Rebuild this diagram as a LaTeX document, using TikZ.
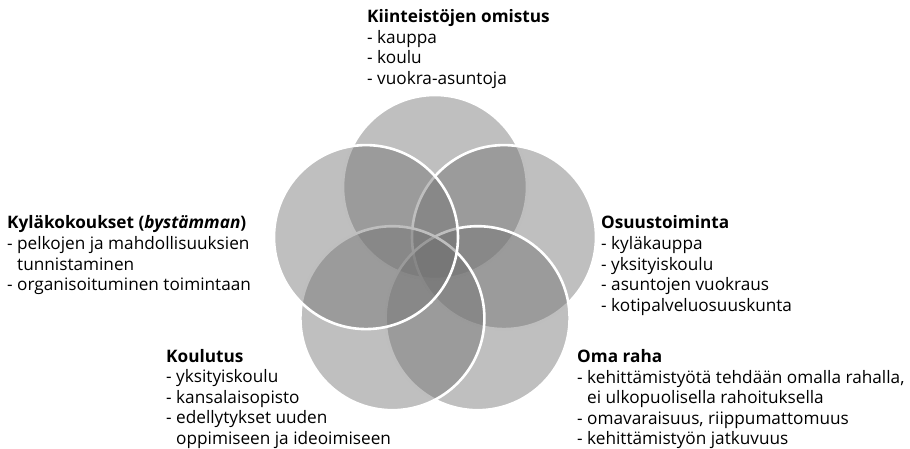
\documentclass[tikz,border=0pt]{standalone}
\usepackage{fontspec}
\setmainfont{Open Sans}
\newcommand{\ind}{\hphantom{- }}
\newcommand{\blk}[1]{\begin{tabular}[t]{@{}l@{}}#1\end{tabular}}
\begin{document}
\begin{tikzpicture}[x=1pt,y=-1pt]
\definecolor{circfill}{RGB}{112,112,112}
\tikzset{
  circ/.style={circle, inner sep=0pt, outer sep=0pt, minimum size=184pt,
    draw=white, line width=2.6pt, fill=circfill, fill opacity=0.45, draw opacity=1},
  lbl/.style={anchor=base west, inner sep=0pt,
    font=\fontsize{17.2}{20.6}\selectfont, text=black}
}
\useasboundingbox (0,0) rectangle (910,449);
% circles, drawn in stacking order
\node[circ] (ctop) at (435,187) {};
\node[circ] (cur)  at (504,237.1) {};
\node[circ] (clr)  at (477.6,318.2) {};
\node[circ] (cll)  at (392.4,318.2) {};
\node[circ] (cul)  at (366,237.1) {};
% labels
\node[lbl] (ttop) at (367,22.5) {\blk{\textbf{Kiinteistöjen omistus}\\- kauppa\\- koulu\\- vuokra-asuntoja}};
\node[lbl] (tleft) at (7,229) {\blk{\textbf{Kyläkokoukset (\textit{bystämman})}\\- pelkojen ja mahdollisuuksien\\\ind tunnistaminen\\- organisoituminen toimintaan}};
\node[lbl] (tright) at (601,229) {\blk{\textbf{Osuustoiminta}\\- kyläkauppa\\- yksityiskoulu\\- asuntojen vuokraus\\- kotipalveluosuuskunta}};
\node[lbl] (tkoul) at (166,362) {\blk{\textbf{Koulutus}\\- yksityiskoulu\\- kansalaisopisto\\- edellytykset uuden\\\ind oppimiseen ja ideoimiseen}};
\node[lbl] (toma) at (577,362.5) {\blk{\textbf{Oma raha}\\- kehittämistyötä tehdään omalla rahalla,\\\ind ei ulkopuolisella rahoituksella\\- omavaraisuus, riippumattomuus\\- kehittämistyön jatkuvuus}};
\end{tikzpicture}
\end{document}
